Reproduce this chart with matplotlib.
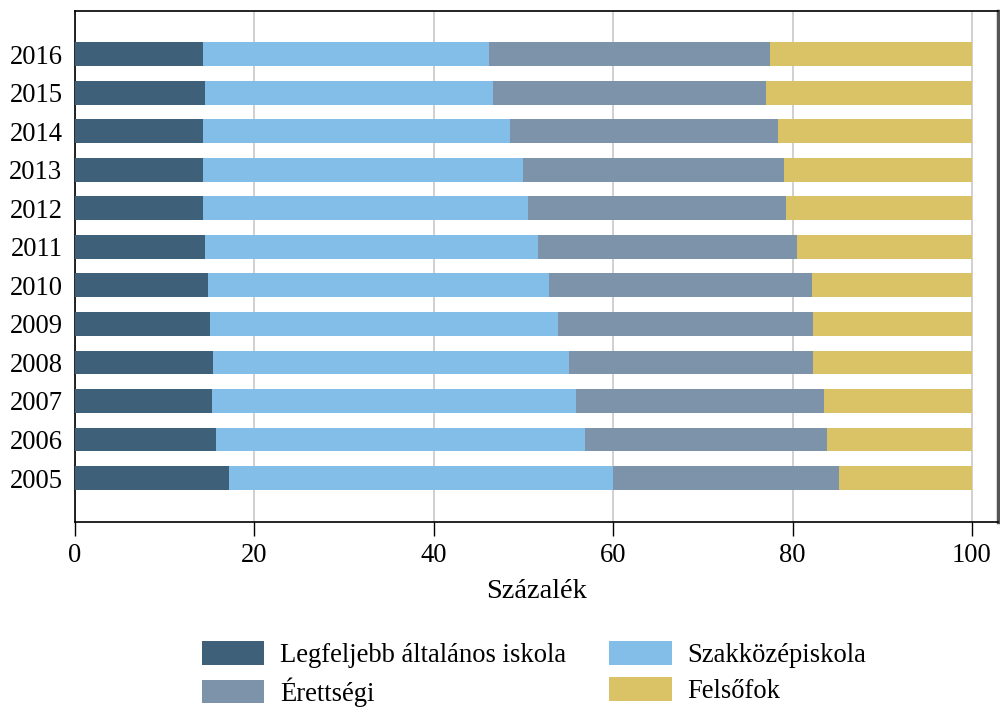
import matplotlib.pyplot as plt
import numpy as np

plt.rcParams['font.family'] = ['Liberation Serif', 'DejaVu Serif']

years = ['2005', '2006', '2007', '2008', '2009', '2010',
         '2011', '2012', '2013', '2014', '2015', '2016']

legfeljebb = [17.2, 15.7, 15.3, 15.4, 15.0, 14.8, 14.5, 14.3, 14.3, 14.3, 14.5, 14.3]
szakkozep_end = [60.0, 56.9, 55.9, 55.1, 53.9, 52.8, 51.6, 50.5, 49.9, 48.5, 46.6, 46.2]
erettsegi_end = [85.2, 83.8, 83.5, 82.3, 82.3, 82.2, 80.5, 79.3, 79.0, 78.4, 77.0, 77.5]

szakkozep = list(np.array(szakkozep_end) - np.array(legfeljebb))
erettsegi = list(np.array(erettsegi_end) - np.array(szakkozep_end))
felsofok = list(100 - np.array(erettsegi_end))

labels = ['Legfeljebb általános iskola', 'Szakközépiskola', 'Érettségi', 'Felsőfok']
colors = ['#3e6179', '#82bee8', '#7c93aa', '#d9c366']
series = [legfeljebb, szakkozep, erettsegi, felsofok]

fig = plt.figure(figsize=(10, 7.08), dpi=100)
ax = fig.add_axes([0.075, 0.2627, 0.923, 0.7218])

y = np.arange(len(years))
left = np.zeros(len(years))
handles = []
for vals, col, lab in zip(series, colors, labels):
    b = ax.barh(y, vals, left=left, height=0.62, color=col, label=lab, zorder=3)
    handles.append(b)
    left = left + np.array(vals)

ax.set_xlim(0, 102.9)
ax.set_ylim(-1.14, 12.12)
ax.set_yticks(y)
ax.set_yticklabels(years)
ax.set_xticks([0, 20, 40, 60, 80, 100])
ax.tick_params(axis='y', length=0, labelsize=19.2, pad=9)
ax.tick_params(axis='x', length=10, width=1, labelsize=19.2, direction='out', pad=5)
ax.xaxis.grid(True, color='#c8c8c8', linewidth=1.2, zorder=0)
ax.set_axisbelow(True)
ax.set_xlabel('Százalék', fontsize=20.5, labelpad=8)

for s in ['left', 'bottom', 'top']:
    ax.spines[s].set_color('black')
    ax.spines[s].set_linewidth(1.2)
ax.spines['right'].set_color('#555555')
ax.spines['right'].set_linewidth(2.5)

# legend order: row 1 = Legfeljebb, Szakközép ; row 2 = Érettségi, Felsőfok
order = [0, 2, 1, 3]
fig.legend([handles[i] for i in order], [labels[i] for i in order],
           ncol=2, loc='lower center', bbox_to_anchor=(0.534, -0.032),
           frameon=False, fontsize=19.2, handlelength=2.35, handleheight=1.0,
           handletextpad=0.6, columnspacing=1.6, labelspacing=0.33)

fig.savefig('out.png', dpi=100)
